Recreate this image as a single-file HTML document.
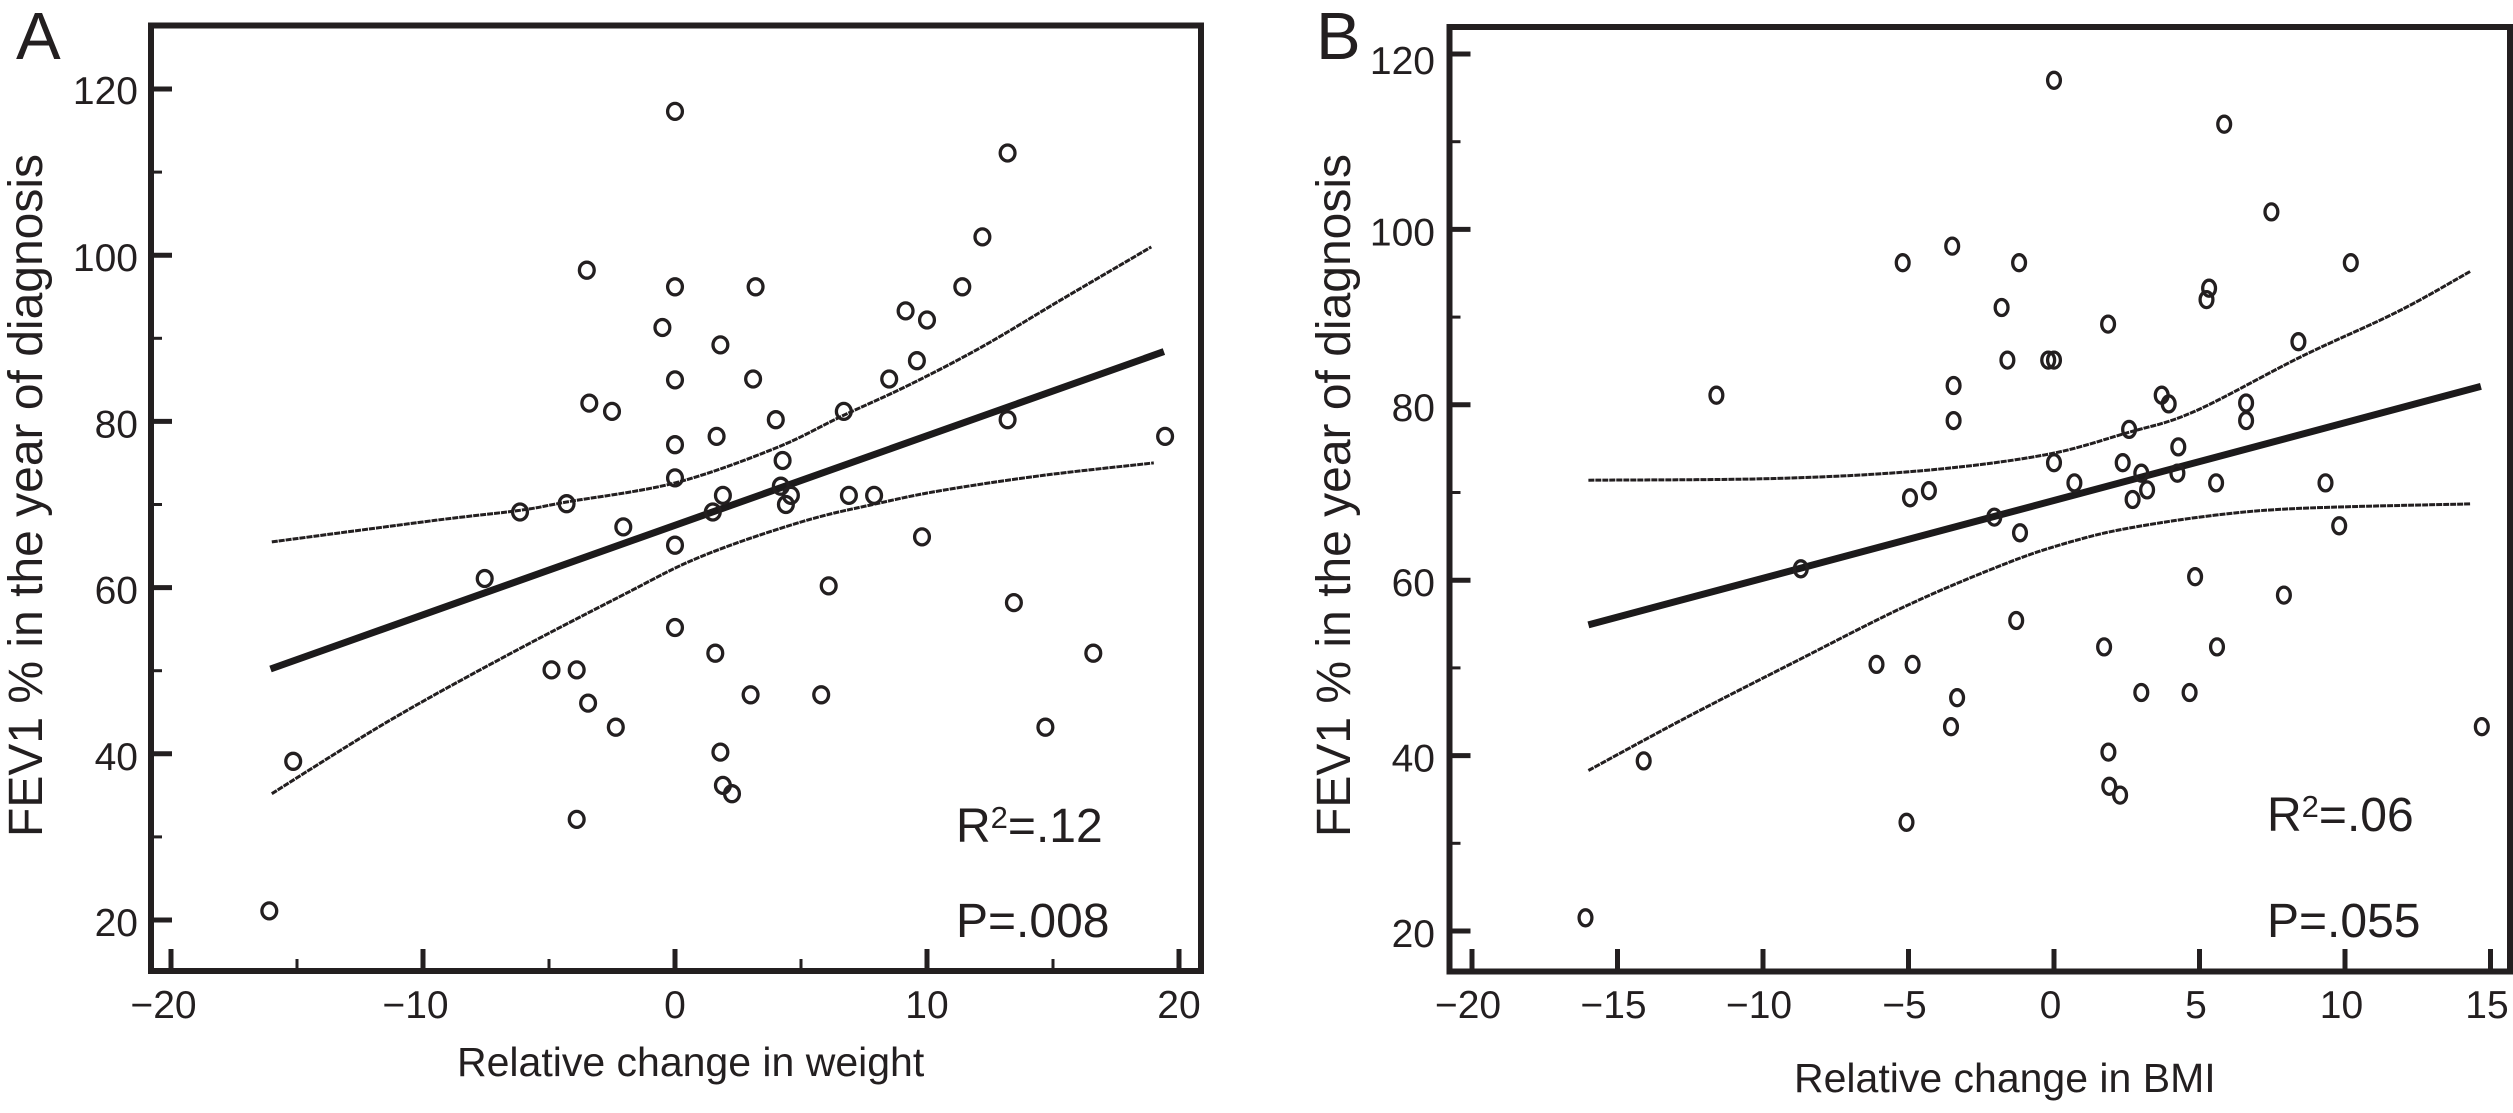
<!DOCTYPE html>
<html lang="en">
<head>
<meta charset="utf-8">
<title>FEV1 versus relative change in weight and BMI</title>
<style>
  html, body { margin: 0; padding: 0; background: #fff; }
  svg { display: block; }
  text { font-family: "Liberation Sans", Arial, sans-serif; fill: #231f20; }
</style>
</head>
<body>
<svg id="figure" xmlns="http://www.w3.org/2000/svg" width="2513" height="1113" viewBox="0 0 2513 1113">
  <rect x="0" y="0" width="2513" height="1113" fill="#ffffff"/>

  <g id="panel-a">
    <text x="16" y="59" font-size="67">A</text>
    <rect x="151" y="25.5" width="1050" height="945.5" fill="none" stroke="#231f20" stroke-width="6"/>
    <text transform="translate(42 837) rotate(-90)" font-size="48">FEV1 % in the year of diagnosis</text>
    <text x="457" y="1076" font-size="41">Relative change in weight</text>
    <text x="956" y="842" font-size="48">R<tspan font-size="31" dy="-14">2</tspan><tspan dy="14">=.12</tspan></text>
    <text x="956" y="937" font-size="48">P=.008</text>
  </g>

  <g id="panel-b">
    <text x="1316" y="59" font-size="67">B</text>
    <rect x="1449.5" y="27" width="1060.5" height="944.5" fill="none" stroke="#231f20" stroke-width="6"/>
    <text transform="translate(1350 837) rotate(-90)" font-size="48">FEV1 % in the year of diagnosis</text>
    <text x="1794" y="1092" font-size="41">Relative change in BMI</text>
    <text x="2267" y="831" font-size="48">R<tspan font-size="31" dy="-14">2</tspan><tspan dy="14">=.06</tspan></text>
    <text x="2267" y="937" font-size="48">P=.055</text>
  </g>
</svg>

<script>
// Panel A data: relative change in weight vs FEV1 %
const weightChange = [-3.5,0,0,-0.5,0,-3.4,-2.5,0,0,-4.3,-6.15,-2.05,13.2,12.2,3.2,11.4,9.15,10,1.8,9.6,3.1,8.5,4,13.2,1.65,6.7,19.45,4.27,4.2,4.6,4.4,1.9,1.5,6.9,7.9,0,9.8,-7.55,6.1,0,13.45,1.6,16.6,-4.9,-3.9,3,5.8,-3.45,-2.35,14.7,1.8,-15.15,1.9,2.26,-3.9,-16.1];
const weightFev = [98.2,117.3,96.2,91.3,85,82.2,81.2,77.2,73.2,70.1,69.1,67.3,112.3,102.2,96.2,96.2,93.3,92.2,89.2,87.3,85.1,85.1,80.2,80.2,78.2,81.2,78.2,75.3,72.2,71.1,70,71.1,69.1,71.1,71.1,65.1,66.1,61.1,60.2,55.2,58.2,52.1,52.1,50.1,50.1,47.1,47.1,46.1,43.2,43.2,40.2,39.1,36.2,35.2,32.1,21.1];
const weightFitX = [-16.05, 19.4];
const weightFitY = [50.2, 88.4];
const weightUpperX = [-16,-9.5,-6.15,-4.3,0,4,6.6,9.3,12.2,15.3,18.9];
const weightUpperY = [65.5,68.1,69.3,70.3,72.6,76.8,80.6,84.4,89,94.6,101];
const weightLowerX = [-16,-11.5,-7,-2.2,1,5,8,10.6,14.6,19];
const weightLowerY = [35.2,43.7,51.3,58.9,63.7,67.9,70.1,71.7,73.5,75];
const weightTicksMajor = [-20,-10,0,10,20];
const weightTicksMinor = [-15,-5,5,15];
const weightTickLabels = ["\u221220","\u221210","0","10","20"];

// Panel B data: relative change in BMI vs FEV1 %
const bmiChange = [0,5.85,7.47,-3.5,-5.2,-1.2,10.2,5.33,5.24,-1.8,1.86,8.4,-1.6,-0.2,0,-3.45,-11.6,3.7,3.94,6.6,6.6,-3.45,2.58,4.27,0,2.36,3,4.24,0.7,3.2,5.57,9.33,-4.3,-4.95,2.7,-2.05,-1.17,9.8,-8.7,4.85,7.9,-1.3,1.72,5.6,-6.1,-4.86,-3.33,3,4.66,-3.54,14.7,1.87,-14.1,1.9,2.27,-5.07,-16.1];
const bmiFev = [117,112,102,98.1,96.2,96.2,96.2,93.3,92,91.1,89.2,87.2,85.1,85.1,85.1,82.2,81.1,81.1,80.1,80.2,78.2,78.2,77.2,75.2,73.4,73.4,72.2,72.2,71.1,70.3,71.1,71.1,70.2,69.4,69.2,67.2,65.4,66.2,61.3,60.4,58.3,55.4,52.4,52.4,50.4,50.4,46.6,47.2,47.2,43.3,43.3,40.4,39.4,36.5,35.5,32.4,21.5];
const bmiFitX = [-16, 14.67];
const bmiFitY = [54.9, 82.1];
const bmiUpperX = [-16,-9.6,-4.5,-0.3,2.5,4.8,8.5,11.8,14.3];
const bmiUpperY = [71.4,71.6,72.5,74.3,76.8,79.2,85.5,90.6,95.2];
const bmiLowerX = [-16,-12.6,-8.9,-5,-1.5,0.6,2.5,5.5,8.5,14.3];
const bmiLowerY = [38.3,44.4,50.7,57.2,62.1,64.4,65.9,67.4,68.2,68.7];
const bmiTicksMajor = [-20,-15,-10,-5,0,5,10,15];
const bmiTicksMinor = [];
const bmiTickLabels = ["\u221220","\u221215","\u221210","\u22125","0","5","10","15"];

// Shared FEV1 axis
const fevTicksMajor = [20,40,60,80,100,120];
const fevTicksMinor = [30,50,70,90,110];
const fevTickLabels = ["20","40","60","80","100","120"];

const SVG_NS = "http://www.w3.org/2000/svg";
const INK = "#231f20";

function xScaleA(v) { return 675 + 25.2 * v; }
function yScaleA(v) { return 920 - (v - 20) * 8.31; }
function xScaleB(v) { return 2054 + 29.1 * v; }
function yScaleB(v) { return 931 - (v - 20) * 8.77; }

function svgEl(tag, parent) {
  const el = document.createElementNS(SVG_NS, tag);
  parent.appendChild(el);
  return el;
}

function drawTicks(group, cfg) {
  cfg.xMajor.forEach(function (v, i) {
    const tick = svgEl("line", group);
    
    
    tick.setAttribute("x1", cfg.x(v));
    tick.setAttribute("x2", cfg.x(v));
    tick.setAttribute("y1", cfg.axisBottom);
    tick.setAttribute("y2", 949);
    tick.setAttribute("stroke", INK);
    tick.setAttribute("stroke-width", 5);

    const label = svgEl("text", group);
    
    
    const isNegative = v < 0;
    label.setAttribute("x", cfg.x(v) + (isNegative ? cfg.negShift : cfg.posShift));
    label.setAttribute("y", 1018);
    label.setAttribute("font-size", 39);
    label.setAttribute("text-anchor", "middle");
    label.textContent = cfg.xLabels[i];
  });
  cfg.xMinor.forEach(function (v) {
    const tick = svgEl("line", group);
    
    
    tick.setAttribute("x1", cfg.x(v));
    tick.setAttribute("x2", cfg.x(v));
    tick.setAttribute("y1", cfg.axisBottom);
    tick.setAttribute("y2", 959);
    tick.setAttribute("stroke", INK);
    tick.setAttribute("stroke-width", 3);
  });
  fevTicksMajor.forEach(function (v, i) {
    const tick = svgEl("line", group);
    
    
    tick.setAttribute("x1", cfg.axisLeft);
    tick.setAttribute("x2", cfg.axisLeft + 21);
    tick.setAttribute("y1", cfg.y(v));
    tick.setAttribute("y2", cfg.y(v));
    tick.setAttribute("stroke", INK);
    tick.setAttribute("stroke-width", 5);

    const label = svgEl("text", group);
    
    
    label.setAttribute("x", cfg.labelRight);
    label.setAttribute("y", cfg.y(v) + (v === 120 ? cfg.topLabelDrop : 16));
    label.setAttribute("font-size", 39);
    label.setAttribute("text-anchor", "end");
    label.textContent = fevTickLabels[i];
  });
  fevTicksMinor.forEach(function (v) {
    const tick = svgEl("line", group);
    
    
    tick.setAttribute("x1", cfg.axisLeft);
    tick.setAttribute("x2", cfg.axisLeft + 11);
    tick.setAttribute("y1", cfg.y(v));
    tick.setAttribute("y2", cfg.y(v));
    tick.setAttribute("stroke", INK);
    tick.setAttribute("stroke-width", 3);
  });
}

// Smooth path (Catmull-Rom as cubic Beziers) through the band values.
function curvePath(xs, ys, xf, yf) {
  const p = xs.map(function (v, i) { return [xf(v), yf(ys[i])]; });
  let d = "M" + p[0][0].toFixed(1) + " " + p[0][1].toFixed(1);
  for (let i = 0; i < p.length - 1; i++) {
    const a = p[Math.max(i - 1, 0)], b = p[i], c = p[i + 1], e = p[Math.min(i + 2, p.length - 1)];
    const c1x = b[0] + (c[0] - a[0]) / 6, c1y = b[1] + (c[1] - a[1]) / 6;
    const c2x = c[0] - (e[0] - b[0]) / 6, c2y = c[1] - (e[1] - b[1]) / 6;
    d += " C" + c1x.toFixed(1) + " " + c1y.toFixed(1) + " " + c2x.toFixed(1) + " " + c2y.toFixed(1) + " " + c[0].toFixed(1) + " " + c[1].toFixed(1);
  }
  return d;
}

function drawLines(group, cfg) {
  const upper = svgEl("path", group);
  
  
  upper.setAttribute("d", curvePath(cfg.upperX, cfg.upperY, cfg.x, cfg.y));
  upper.setAttribute("fill", "none");
  upper.setAttribute("stroke", INK);
  upper.setAttribute("stroke-width", 3);
  upper.setAttribute("stroke-dasharray", "6 1");

  const lower = svgEl("path", group);
  
  
  lower.setAttribute("d", curvePath(cfg.lowerX, cfg.lowerY, cfg.x, cfg.y));
  lower.setAttribute("fill", "none");
  lower.setAttribute("stroke", INK);
  lower.setAttribute("stroke-width", 3);
  lower.setAttribute("stroke-dasharray", "6 1");

  const fit = svgEl("path", group);
  
  
  fit.setAttribute("d", curvePath(cfg.fitX, cfg.fitY, cfg.x, cfg.y));
  fit.setAttribute("fill", "none");
  fit.setAttribute("stroke", "#1c1a1b");
  fit.setAttribute("stroke-width", 7);
}

function drawPoints(group, cfg) {
  cfg.px.forEach(function (v, i) {
    const dot = svgEl("ellipse", group);
    
    
    dot.setAttribute("cx", cfg.x(v).toFixed(1));
    dot.setAttribute("cy", cfg.y(cfg.py[i]).toFixed(1));
    dot.setAttribute("rx", cfg.rx);
    dot.setAttribute("ry", cfg.ry);
    dot.setAttribute("fill", "none");
    dot.setAttribute("stroke", INK);
    dot.setAttribute("stroke-width", 3.3);
  });
}

const configA = {
  x: xScaleA, y: yScaleA, axisLeft: 151, axisBottom: 971, labelRight: 138, topLabelDrop: 15,
  negShift: -7.5, posShift: 0,
  xMajor: weightTicksMajor, xMinor: weightTicksMinor, xLabels: weightTickLabels,
  px: weightChange, py: weightFev, rx: 7.4, ry: 8,
  fitX: weightFitX, fitY: weightFitY,
  upperX: weightUpperX, upperY: weightUpperY, lowerX: weightLowerX, lowerY: weightLowerY
};
const configB = {
  x: xScaleB, y: yScaleB, axisLeft: 1449.5, axisBottom: 971.5, labelRight: 1435, topLabelDrop: 20,
  negShift: -4, posShift: -3.5,
  xMajor: bmiTicksMajor, xMinor: bmiTicksMinor, xLabels: bmiTickLabels,
  px: bmiChange, py: bmiFev, rx: 6.4, ry: 8,
  fitX: bmiFitX, fitY: bmiFitY,
  upperX: bmiUpperX, upperY: bmiUpperY, lowerX: bmiLowerX, lowerY: bmiLowerY
};

[["panel-a", configA], ["panel-b", configB]].forEach(function (entry) {
  const group = document.getElementById(entry[0]);
  drawTicks(group, entry[1]);
  drawLines(group, entry[1]);
  drawPoints(group, entry[1]);
});
</script>
</body>
</html>
